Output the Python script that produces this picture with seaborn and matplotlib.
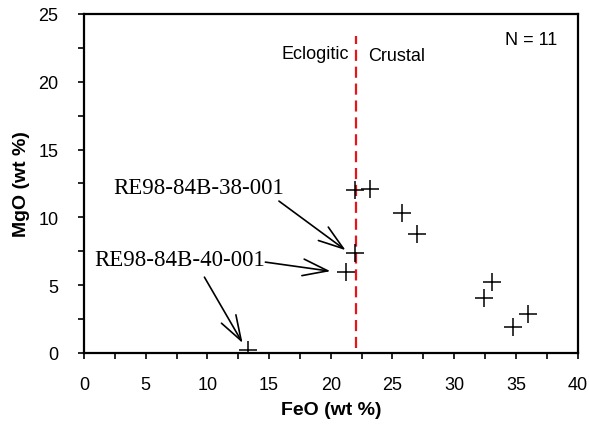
import matplotlib
matplotlib.use("Agg")
import matplotlib.pyplot as plt
import seaborn as sns
import pandas as pd
from matplotlib.ticker import MultipleLocator

# Data
feo = [22.0, 23.2, 25.8, 27.0, 22.0, 21.2, 33.1, 32.4, 36.0, 34.8, 13.3]
mgo = [12.0, 12.1, 10.35, 8.74, 7.34, 5.96, 5.22, 4.06, 2.88, 1.92, 0.19]
boundary_feo = 22.05
boundary_mgo = [0.4, 23.4]

df = pd.DataFrame({"FeO": feo, "MgO": mgo})

sns.set_theme(style="white")
plt.rcParams["font.family"] = ["Liberation Sans", "DejaVu Sans"]

fig = plt.figure(figsize=(5.89, 4.27), dpi=100)
ax = fig.add_axes([0.1426, 0.171, 0.838, 0.794])

sns.scatterplot(data=df, x="FeO", y="MgO", marker="+", s=160, color="black",
                linewidth=1.1, ax=ax, zorder=3)

ax.plot([boundary_feo, boundary_feo], boundary_mgo, color="#e8141b",
        linestyle=(0, (5, 2.6)), linewidth=1.6, zorder=2)

ax.set_xlim(0, 40)
ax.set_ylim(0, 25)
ax.xaxis.set_major_locator(MultipleLocator(5))
ax.xaxis.set_minor_locator(MultipleLocator(2.5))
ax.yaxis.set_major_locator(MultipleLocator(5))
ax.yaxis.set_minor_locator(MultipleLocator(2.5))
ax.tick_params(which="both", direction="out", length=4.5, width=1.2, color="black",
               bottom=True, left=True, top=False, right=False)
ax.tick_params(which="major", labelsize=13, labelcolor="black")
ax.tick_params(axis="x", which="major", pad=12)
ax.tick_params(axis="y", which="major", pad=14)

for sp in ax.spines.values():
    sp.set_visible(True)
    sp.set_color("black")
    sp.set_linewidth(1.6)

ax.set_xlabel("FeO (wt %)", fontsize=14, fontweight="bold", color="black", labelpad=6)
ax.set_ylabel("MgO (wt %)", fontsize=14, fontweight="bold", color="black", labelpad=6)

ax.text(21.5, 22.05, "Eclogitic", ha="right", va="center", fontsize=13, color="black")
ax.text(23.0, 21.9, "Crustal", ha="left", va="center", fontsize=13, color="black")
ax.text(34.1, 23.1, "N = 11", ha="left", va="center", fontsize=13, color="black")

serif = ["Liberation Serif", "DejaVu Serif"]
arrow = dict(arrowstyle="->,head_length=1.5,head_width=0.5", color="black", lw=1.2,
             shrinkA=0, shrinkB=0)

ax.text(2.4, 12.2, "RE98-84B-38-001", ha="left", va="center", fontsize=16.5,
        family=serif, color="black")
ax.annotate("", xy=(21.2, 7.58), xytext=(15.8, 11.2), arrowprops=arrow)

ax.text(0.8, 6.9, "RE98-84B-40-001", ha="left", va="center", fontsize=16.5,
        family=serif, color="black")
ax.annotate("", xy=(19.97, 6.03), xytext=(14.7, 6.70), arrowprops=arrow)
ax.annotate("", xy=(12.85, 0.74), xytext=(9.76, 5.59), arrowprops=arrow)

fig.savefig("out.png", dpi=100)
